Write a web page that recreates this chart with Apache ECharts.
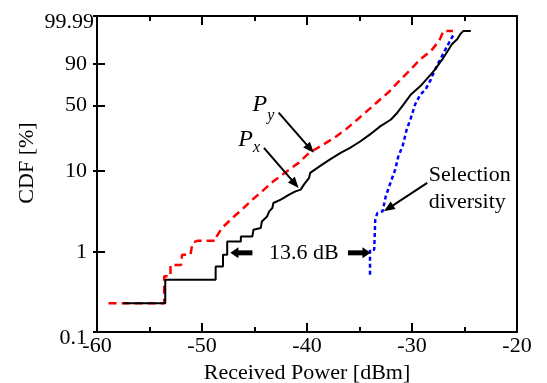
<!DOCTYPE html>
<html>
<head>
<meta charset="utf-8">
<script src="https://cdn.jsdelivr.net/npm/echarts@6/dist/echarts.min.js"></script>
<style>html,body{margin:0;padding:0;background:#fff;}#c{width:547px;height:383px;}</style>
</head>
<body>
<div id="c"></div>
<script>
// ---- data (Received power in dBm, CDF in %) ----
const pxPower = [-57.5, -53.5, -53.5, -48.7, -48.7, -48.0, -48.0, -47.6, -47.6, -46.3, -46.3, -45.2, -45.1, -44.4, -44.3, -43.8, -43.6, -43.3, -43.2, -42.5, -41.7, -41.1, -40.6, -40.3, -39.8, -39.7, -38.7, -37.8, -36.8, -35.9, -34.9, -34.0, -33.0, -32.0, -31.4, -30.8, -30.1, -29.2, -28.2, -27.8, -27.1, -26.6, -26.2, -25.7, -25.4, -25.1, -24.4];
const pxCdf   = [0.23, 0.23, 0.45, 0.45, 0.66, 0.66, 0.93, 0.93, 1.36, 1.36, 1.57, 1.57, 1.90, 2.00, 2.41, 2.78, 3.21, 3.53, 4.07, 4.47, 5.15, 5.65, 5.93, 6.82, 8.22, 9.44, 11.5, 13.6, 16.2, 18.5, 21.9, 26.0, 31.8, 37.1, 43.1, 51.2, 61.6, 70.4, 81.9, 86.1, 92.9, 96.5, 98.3, 99.1, 99.57, 99.75, 99.75];

const pyPower = [-58.9, -53.6, -53.6, -53.0, -53.0, -52.0, -51.9, -51.1, -50.9, -50.4, -48.7, -48.7, -48.1, -47.1, -46.2, -45.2, -44.1, -43.2, -41.9, -40.8, -39.8, -38.7, -37.4, -36.3, -35.2, -34.1, -33.2, -32.2, -31.3, -30.3, -29.2, -28.2, -27.4, -27.0, -26.1];
const pyCdf   = [0.23, 0.23, 0.50, 0.50, 0.69, 0.69, 0.93, 0.93, 1.31, 1.39, 1.39, 1.50, 2.00, 2.66, 3.37, 4.47, 5.93, 7.48, 9.86, 12.4, 16.2, 19.3, 23.9, 29.4, 37.1, 46.2, 54.6, 64.3, 74.7, 84.5, 92.9, 96.5, 98.9, 99.75, 99.75];

const sdPower = [-34.0, -34.0, -33.6, -33.5, -33.3, -32.8, -32.5, -32.0, -31.6, -31.3, -30.9, -30.5, -30.1, -29.7, -29.2, -28.7, -28.2, -27.8, -27.3, -26.8, -26.3, -26.0];
const sdCdf   = [0.52, 1.07, 1.07, 2.53, 3.06, 3.21, 4.91, 7.48, 10.3, 14.8, 19.3, 29.4, 38.6, 51.2, 61.6, 66.9, 77.2, 86.1, 92.9, 97.1, 99.1, 99.57];

const yTickValues = [0.1, 1, 10, 50, 90, 99.99];
const yTickLabels = ['0.1', '1', '10', '50', '90', '99.99'];
const xTicks = { min: -60, max: -20, interval: 10 };

// annotations (power dBm, CDF %)
const arrowPy = [[-42.7, 43.1], [-39.35, 16.2]];
const arrowPx = [[-44.1, 18.5], [-40.8, 6.22]];
const arrowSD = [[-28.55, 7.15], [-32.68, 3.21]];
const arrowDbLeft = [[-45.2, 0.98], [-47.3, 0.98]];
const arrowDbRight = [[-36.1, 0.98], [-33.95, 0.98]];
const labelPy = [-44.5, 51];
const labelPx = [-45.86, 22.9];
const labelDb = [-40.3, 0.98];
const labelSD = [-28.4, 6.0];

// Rayleigh probability scale
const T = p => Math.log10(-Math.log(1 - p / 100));
const toData = (xs, ps) => xs.map((x, i) => [x, T(ps[i])]);
const yTickT = yTickValues.map(T);

const FONT = 'Liberation Serif';
const FS = 22;
const chart = echarts.init(document.getElementById('c'));

const tickStyle = { color: '#000', width: 2 };
const axLine = { onZero: false, lineStyle: { color: '#000', width: 2 } };
const option = {
  animation: false,
  backgroundColor: '#fff',
  grid: { left: 97, right: 30, top: 16, bottom: 51, outerBoundsMode: 'none', containLabel: false },
  xAxis: [
    {
      type: 'value', min: xTicks.min, max: xTicks.max, interval: xTicks.interval, position: 'bottom',
      axisLine: axLine,
      axisTick: { inside: true, length: 9, lineStyle: tickStyle },
      minorTick: { show: true, splitNumber: 2, length: 5, lineStyle: tickStyle },
      splitLine: { show: false },
      axisLabel: { color: '#000', fontFamily: FONT, fontSize: FS, margin: 3 },
      name: 'Received Power [dBm]', nameLocation: 'middle', nameGap: 27,
      nameTextStyle: { color: '#000', fontFamily: FONT, fontSize: FS }
    },
    {
      type: 'value', min: xTicks.min, max: xTicks.max, interval: xTicks.interval, position: 'top',
      axisLine: axLine,
      axisTick: { inside: true, length: 9, lineStyle: tickStyle },
      minorTick: { show: true, splitNumber: 2, length: 5, lineStyle: tickStyle },
      splitLine: { show: false }, axisLabel: { show: false }
    }
  ],
  yAxis: [
    {
      type: 'value', min: T(0.1), max: T(99.99), position: 'left',
      axisLine: axLine,
      axisTick: { inside: true, length: 8, customValues: yTickT, lineStyle: tickStyle },
      splitLine: { show: false },
      axisLabel: {
        customValues: yTickT, margin: 3, color: '#000', fontFamily: FONT, fontSize: FS,
        formatter: v => {
          let best = 0;
          yTickT.forEach((t, i) => { if (Math.abs(t - v) < Math.abs(yTickT[best] - v)) best = i; });
          const lab = yTickLabels[best];
          if (best === 0) return '{lo|' + lab + '}';
          if (best === yTickT.length - 1) return '{hi|' + lab + '}';
          return '{n|' + lab + '}';
        },
        rich: {
          n: { fontFamily: FONT, fontSize: FS, color: '#000', padding: [0, 7, 0, 0] },
          lo: { fontFamily: FONT, fontSize: FS, color: '#000', padding: [12, 7, 0, 0] },
          hi: { fontFamily: FONT, fontSize: FS, color: '#000', padding: [12, 0, 0, 0] }
        }
      }
    },
    {
      type: 'value', min: T(0.1), max: T(99.99), position: 'left',
      axisLine: { show: false, onZero: false },
      axisTick: { inside: false, length: 4, customValues: yTickT, lineStyle: tickStyle },
      axisLabel: { show: false }, splitLine: { show: false }
    },
    {
      type: 'value', min: T(0.1), max: T(99.99), position: 'right',
      axisLine: { show: true, onZero: false, lineStyle: { color: '#000', width: 2 } },
      axisTick: { show: false }, axisLabel: { show: false }, splitLine: { show: false }
    }
  ],
  series: [
    {
      name: 'Py', type: 'line', data: toData(pyPower, pyCdf), showSymbol: false, symbol: 'none',
      lineStyle: { color: '#ff0000', width: 2.5, type: [8, 5] }, z: 3
    },
    {
      name: 'Selection diversity', type: 'line', data: toData(sdPower, sdCdf), showSymbol: false, symbol: 'none',
      lineStyle: { color: '#0000ff', width: 2.5, type: [4, 3] }, z: 3
    },
    {
      name: 'Px', type: 'line', data: toData(pxPower, pxCdf), showSymbol: false, symbol: 'none',
      lineStyle: { color: '#000', width: 2 }, z: 4
    }
  ]
};
chart.setOption(option);

const P = d => chart.convertToPixel({ xAxisIndex: 0, yAxisIndex: 0 }, [d[0], T(d[1])]);
function arrow(seg, w, hl, hw) {
  const a = P(seg[0]), b = P(seg[1]);
  const dx = b[0] - a[0], dy = b[1] - a[1], L = Math.hypot(dx, dy);
  const ux = dx / L, uy = dy / L, nx = -uy, ny = ux;
  const bx = b[0] - ux * hl, by = b[1] - uy * hl;
  return [
    { type: 'line', shape: { x1: a[0], y1: a[1], x2: bx + ux, y2: by + uy }, style: { stroke: '#000', lineWidth: w }, z: 10 },
    { type: 'polygon', shape: { points: [[b[0], b[1]], [bx + nx * hw / 2, by + ny * hw / 2], [bx - nx * hw / 2, by - ny * hw / 2]] }, style: { fill: '#000' }, z: 10 }
  ];
}
const txt = (pos, text, size, extra) => Object.assign({
  type: 'text', x: pos[0], y: pos[1], z: 10,
  style: Object.assign({ text, fontFamily: FONT, fontSize: size, fill: '#000', align: 'center', verticalAlign: 'middle' }, extra || {})
});

const pPy = P(labelPy), pPx = P(labelPx), pDb = P(labelDb), pSD = P(labelSD);
const g = [].concat(
  arrow(arrowPy, 2, 11, 9),
  arrow(arrowPx, 2, 11, 9),
  arrow(arrowSD, 2, 11, 9),
  arrow(arrowDbLeft, 5, 8, 11),
  arrow(arrowDbRight, 5, 8, 11),
  [
    txt(pPy, 'P', 24, { fontStyle: 'italic' }),
    txt([pPy[0] + 11, pPy[1] + 11], 'y', 16, { fontStyle: 'italic' }),
    txt(pPx, 'P', 24, { fontStyle: 'italic' }),
    txt([pPx[0] + 11, pPx[1] + 8], 'x', 16, { fontStyle: 'italic' }),
    txt(pDb, '13.6 dB', FS),
    txt(pSD, 'Selection\ndiversity', FS, { align: 'left', lineHeight: 27 }),
    { type: 'text', x: 27, y: 163, rotation: Math.PI / 2, z: 10,
      style: { text: 'CDF [%]', fontFamily: FONT, fontSize: FS, fill: '#000', align: 'center', verticalAlign: 'middle' } }
  ]
);
chart.setOption({ graphic: g });
</script>
</body>
</html>
